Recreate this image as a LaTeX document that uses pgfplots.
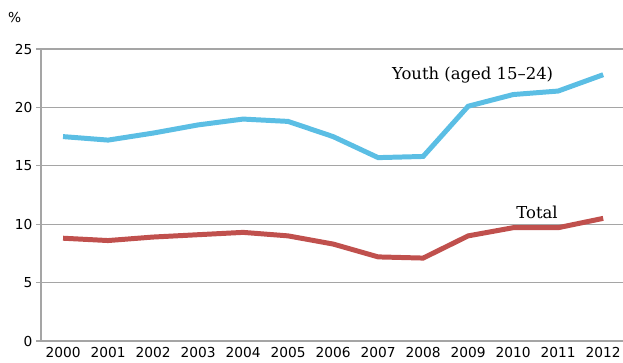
\documentclass[border=0pt]{standalone}
\usepackage{pgfplots}
\pgfplotsset{compat=1.18}
\usepackage{fontspec}
\setmainfont{DejaVu Sans}
\newfontfamily\labelfont[Ligatures=TeX]{DejaVu Serif}
\definecolor{youth}{RGB}{91,190,228}
\definecolor{total}{RGB}{192,80,77}
\definecolor{axgray}{RGB}{165,165,165}
\begin{document}
\begin{tikzpicture}
\begin{axis}[
  scale only axis,
  width=582bp, height=292bp,
  xmin=1999.51, xmax=2012.44,
  ymin=0, ymax=25,
  ytick={0,5,...,25},
  xtick={2000,...,2012},
  xticklabel style={/pgf/number format/1000 sep={}},
  /pgf/number format/assume math mode=true,
  tick label style={font=\fontsize{13.8}{14}\selectfont, text=black},
  axis x line*=bottom,
  axis y line*=left,
  axis line style={axgray, line width=1.2pt, -},
  ymajorgrids,
  grid style={axgray, line width=1.2pt},
  major tick length=5bp,
  ytick style={axgray, line width=1.2pt},
  xtick style={draw=none},
  tick align=outside,
  xticklabel style={yshift=2bp},
  clip=false,
]
\addplot[youth, line width=5pt] coordinates {
  (2000,17.5) (2001,17.2) (2002,17.8) (2003,18.5) (2004,19.0) (2005,18.8)
  (2006,17.5) (2007,15.7) (2008,15.8) (2009,20.1) (2010,21.1) (2011,21.4) (2012,22.8)};
\addplot[total, line width=5pt] coordinates {
  (2000,8.8) (2001,8.6) (2002,8.9) (2003,9.1) (2004,9.3) (2005,9.0)
  (2006,8.3) (2007,7.2) (2008,7.1) (2009,9.0) (2010,9.7) (2011,9.7) (2012,10.5)};
\node[font=\labelfont\fontsize{16.5}{18}\selectfont] at (axis cs:2009.1,22.8) {Youth (aged 15–24)};
\node[font=\labelfont\fontsize{16.5}{18}\selectfont] at (axis cs:2010.53,11.05) {Total};
\node[font=\fontsize{13.8}{14}\selectfont, anchor=west, inner sep=0pt] at (-33bp,324bp) {\%};
\end{axis}
\pgfresetboundingbox
\path[use as bounding box] (-41bp,-22bp) rectangle (582bp,341bp);
\end{tikzpicture}
\end{document}
